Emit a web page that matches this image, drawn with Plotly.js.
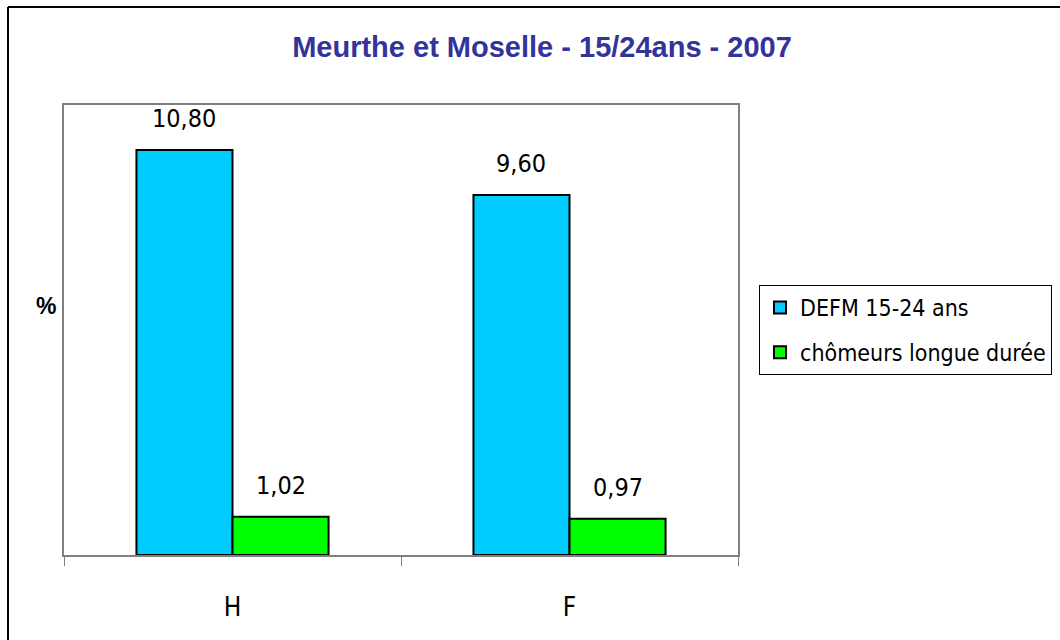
<!DOCTYPE html>
<html>
<head>
<meta charset="utf-8">
<script src="https://cdn.plot.ly/plotly-3.0.1.min.js"></script>
<style>
html,body{margin:0;padding:0;background:#fff;}
#chart{width:1060px;height:640px;}
</style>
</head>
<body>
<div id="chart"></div>
<script>
var categories = ['H', 'F'];
var seriesNames = ['DEFM 15-24 ans', 'chômeurs longue durée'];
var defmValues = [10.80, 9.60];
var chomeursValues = [1.02, 0.97];
var seriesColors = ['#00CCFF', '#00FF00'];
var titleText = 'Meurthe et Moselle - 15/24ans - 2007';
var yLabel = '%';

var W = 1060, H = 640;
var mL = 64, mR = 322, mT = 105, mB = 85;
var plotW = W - mL - mR, plotH = H - mT - mB;
var narrow = '"Liberation Sans Narrow", "Arial Narrow", "DejaVu Sans Condensed", sans-serif';

function fmt(v){ return v.toFixed(2).replace('.', ','); }

var allSeries = [defmValues, chomeursValues];
var traces = allSeries.map(function(vals, i){
  return {
    type: 'bar',
    name: seriesNames[i],
    x: categories,
    y: vals,
    legendgroup: 'g' + i,
    marker: {color: seriesColors[i], line: {color: '#000', width: 2}},
    hoverinfo: 'x+y+name'
  };
});

var barPx = plotW / categories.length * (1 - 0.43) / 2;
var annotations = [];
allSeries.forEach(function(vals, i){
  vals.forEach(function(v, j){
    annotations.push({
      x: categories[j], y: v, xref: 'x', yref: 'y',
      text: fmt(v), showarrow: false,
      xshift: (i === 0 ? -1 : 1) * barPx / 2,
      yanchor: 'bottom', yshift: 15,
      font: {family: narrow, size: 25, color: '#000'}
    });
  });
});
annotations.push({
  xref: 'paper', yref: 'paper',
  x: (46 - mL) / plotW, y: (H - mB - 306) / plotH,
  text: yLabel, showarrow: false,
  xanchor: 'center', yanchor: 'middle',
  font: {family: 'Liberation Sans, Arial, sans-serif', size: 23, color: '#000', weight: 'bold'}
});

function px2x(p){ return (p - mL) / plotW; }
function py2y(p){ return (H - mB - p) / plotH; }

var shapes = [
  {type: 'line', xref: 'paper', yref: 'paper', x0: px2x(8), x1: px2x(8), y0: py2y(7), y1: py2y(660), line: {color: '#000', width: 2}, layer: 'above'},
  {type: 'line', xref: 'paper', yref: 'paper', x0: px2x(8), x1: px2x(1080), y0: py2y(7), y1: py2y(7), line: {color: '#000', width: 2}, layer: 'above'}
];

var layout = {
  width: W, height: H,
  margin: {l: mL, r: mR, t: mT, b: mB, pad: 0, autoexpand: false},
  paper_bgcolor: '#fff', plot_bgcolor: '#fff',
  title: {
    text: titleText,
    font: {family: 'Liberation Sans, Arial, sans-serif', size: 29, color: '#333399', weight: 'bold'},
    x: 542 / W, xref: 'container', xanchor: 'center',
    y: 1 - 47 / H, yref: 'container', yanchor: 'middle'
  },
  barmode: 'group', bargap: 0.43, bargroupgap: 0,
  showlegend: true,
  legend: {
    x: px2x(759), y: py2y(285), xanchor: 'left', yanchor: 'top',
    bordercolor: '#000', borderwidth: 1, bgcolor: '#fff',
    font: {family: narrow, size: 23, color: '#000'},
    tracegroupgap: 12, itemclick: false
  },
  xaxis: {
    type: 'category',
    showline: true, linecolor: '#808080', linewidth: 2, mirror: true,
    ticks: 'outside', tickson: 'boundaries', ticklen: 9, tickcolor: '#808080', tickwidth: 1,
    tickfont: {family: narrow, size: 26, color: '#000'},
    ticklabelstandoff: 28,
    showgrid: false, zeroline: false, fixedrange: true
  },
  yaxis: {
    range: [0, 12],
    showline: true, linecolor: '#808080', linewidth: 2, mirror: true,
    ticks: '', showticklabels: false, showgrid: false, zeroline: false, fixedrange: true
  },
  annotations: annotations,
  shapes: shapes
};

Plotly.newPlot('chart', traces, layout, {displayModeBar: false, staticPlot: true});
</script>
</body>
</html>
